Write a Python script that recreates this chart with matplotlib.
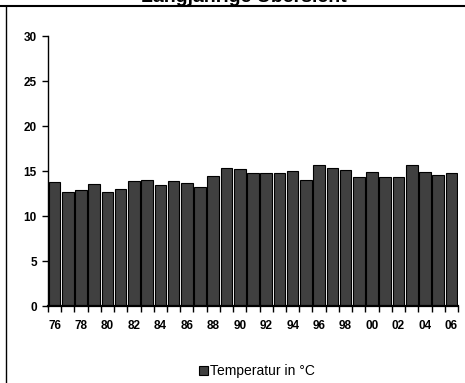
import matplotlib
matplotlib.use("Agg")
import matplotlib.pyplot as plt
from matplotlib.lines import Line2D

plt.rcParams['font.family'] = ['Liberation Sans', 'DejaVu Sans']

years = ['76', '77', '78', '79', '80', '81', '82', '83', '84', '85',
         '86', '87', '88', '89', '90', '91', '92', '93', '94', '95',
         '96', '97', '98', '99', '00', '01', '02', '03', '04', '05', '06']
temps = [13.8, 12.7, 12.85, 13.55, 12.7, 13.0, 13.9, 14.05, 13.45, 13.9,
         13.65, 13.2, 14.45, 15.3, 15.2, 14.75, 14.75, 14.75, 15.0, 13.95,
         15.65, 15.3, 15.1, 14.3, 14.85, 14.3, 14.3, 15.65, 14.85, 14.55, 14.75]
yticks = [0, 5, 10, 15, 20, 25, 30]

fig = plt.figure(figsize=(4.65, 3.83), dpi=100)
ax = fig.add_axes([0.103, 0.201, 0.882, 0.705])

x = list(range(len(years)))
ax.bar(x, temps, width=0.88, color='#404040', edgecolor='black', linewidth=0.8,
       label='Temperatur in °C')

ax.set_xlim(-0.5, len(years) - 0.5)
ax.set_ylim(0, 30)
ax.set_yticks(yticks)
ax.set_yticklabels([str(v) for v in yticks], fontsize=8.5, fontweight='bold')

# ticks between categories, labels on every other bar
ax.set_xticks([i - 0.5 for i in range(len(years) + 1)])
ax.set_xticklabels([])
ax.set_xticks(x[::2], minor=True)
ax.set_xticklabels(years[::2], minor=True, fontsize=8.5, fontweight='bold')
ax.tick_params(axis='x', which='major', length=4, width=1, direction='out')
ax.tick_params(axis='x', which='minor', length=0, pad=10)
ax.tick_params(axis='y', length=4, width=1, direction='out', pad=4)

for s in ['top', 'right']:
    ax.spines[s].set_visible(False)
ax.spines['bottom'].set_linewidth(1.6)
ax.spines['left'].set_linewidth(1.0)

fig.legend(loc='center', bbox_to_anchor=(0.553, 1 - 371 / 383), frameon=False,
           fontsize=10, handlelength=0.6, handleheight=0.6, handletextpad=0.15)

# frame lines and clipped title
fig.add_artist(Line2D([0, 1], [0.984, 0.984], color='black', linewidth=1.5,
                      transform=fig.transFigure))
fig.add_artist(Line2D([0.013, 0.013], [0, 0.984], color='black', linewidth=1.0,
                      transform=fig.transFigure))
fig.text(244 / 465, 1.0 - 1.5 / 383, 'Langjährige Übersicht', ha='center', va='baseline',
         fontsize=14, fontweight='bold')

fig.savefig('out.png', dpi=100)
